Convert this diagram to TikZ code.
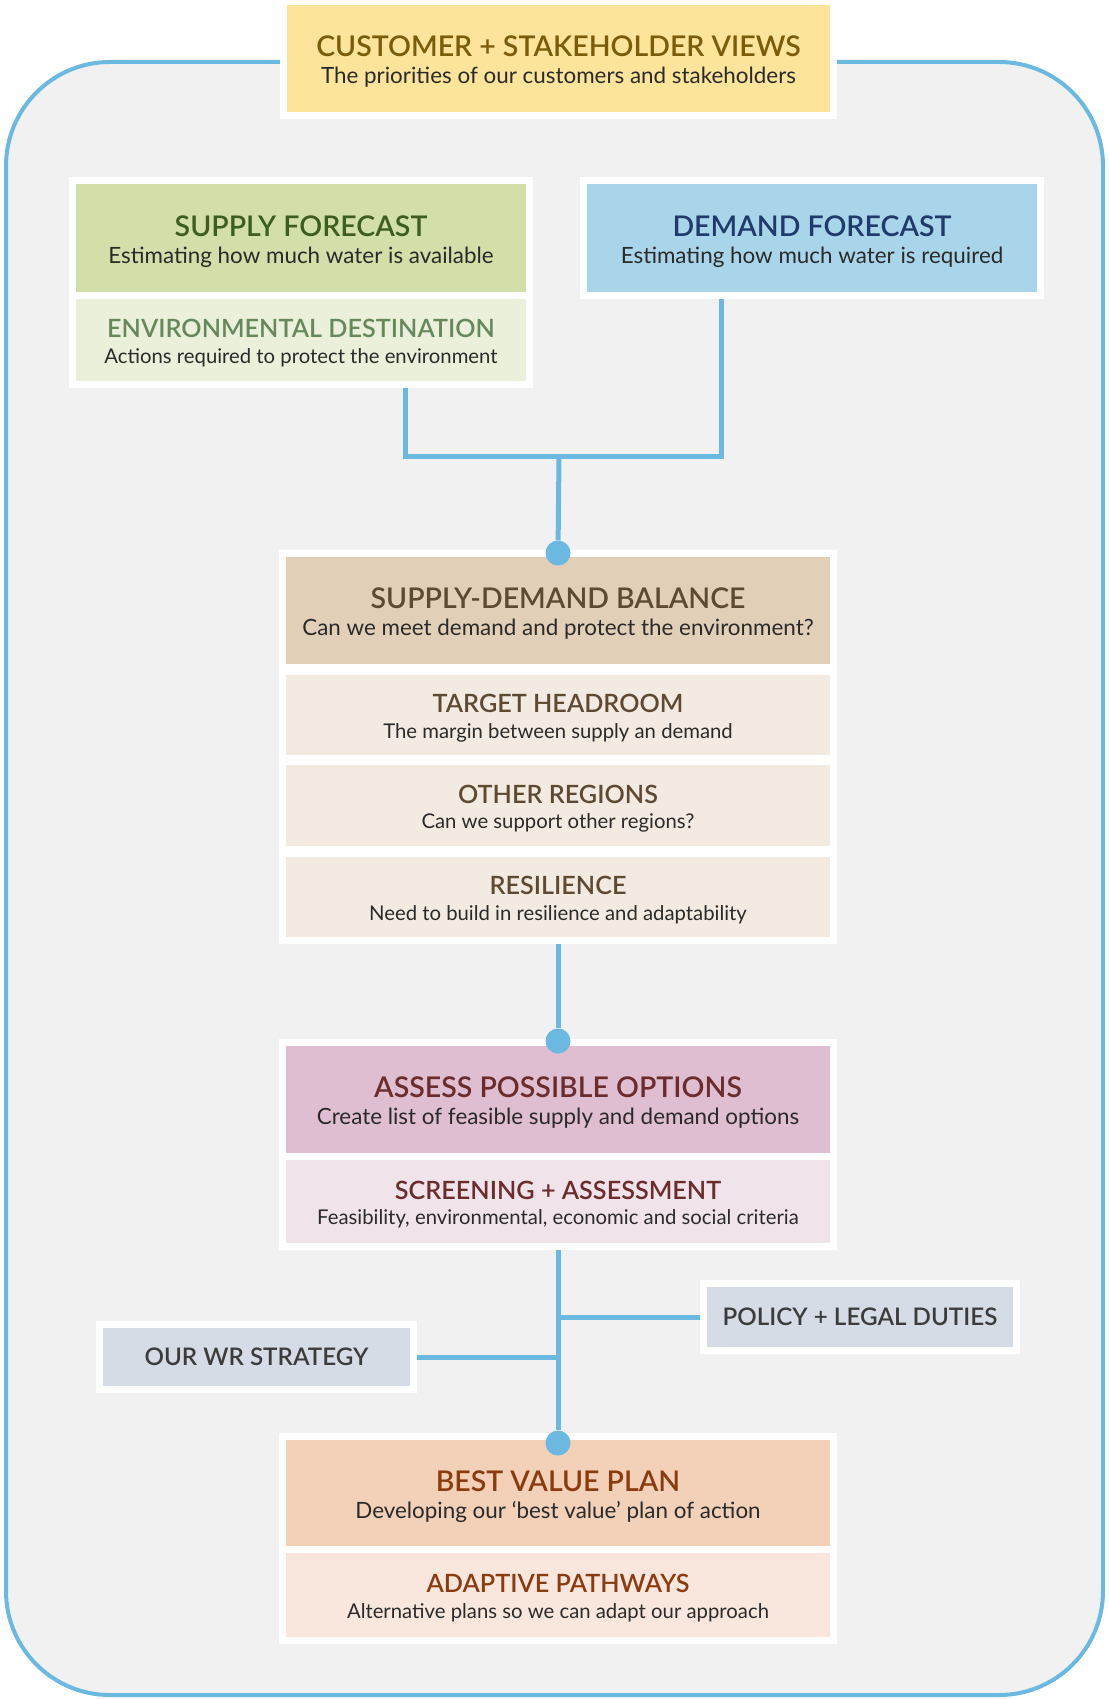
\documentclass[tikz,border=0pt]{standalone}
\usepackage{fontspec}
\setmainfont{Lato}[BoldFont={Lato Semibold}]

\pgfdeclarelayer{back}
\pgfdeclarelayer{wires}
\pgfsetlayers{back,wires,main}

% palette
\definecolor{bggray}{HTML}{F1F1F1}
\definecolor{frameblue}{HTML}{6BB9E0}
\definecolor{wireblue}{HTML}{6BB9E0}
\definecolor{txt}{HTML}{2A2A2A}
\definecolor{custY}{HTML}{FDE49B}
\definecolor{custT}{HTML}{7A5C0A}
\definecolor{supG}{HTML}{D2DFA9}
\definecolor{supT}{HTML}{3D5E1F}
\definecolor{envG}{HTML}{EBF0DA}
\definecolor{envT}{HTML}{66895C}
\definecolor{demB}{HTML}{A9D5EA}
\definecolor{demT}{HTML}{1F3A6B}
\definecolor{sdbB}{HTML}{E2CFB8}
\definecolor{sdbL}{HTML}{F3EAE2}
\definecolor{sdbT}{HTML}{5E4A32}
\definecolor{aspP}{HTML}{DFBED1}
\definecolor{aspL}{HTML}{F0E4EA}
\definecolor{aspT}{HTML}{6A2C2C}
\definecolor{greyB}{HTML}{D5DCE6}
\definecolor{greyT}{HTML}{3C3C3C}
\definecolor{bvpO}{HTML}{F3D0B8}
\definecolor{bvpL}{HTML}{F9E7DD}
\definecolor{bvpT}{HTML}{8A3C10}

% type sizes
\newcommand\ttlfont{\fontsize{28.5}{32}\selectfont\bfseries}
\newcommand\subfont{\fontsize{22.4}{26}\selectfont}
\newcommand\sttlfont{\fontsize{25.2}{28}\selectfont\bfseries}
\newcommand\ssubfont{\fontsize{20.3}{24}\selectfont}
\newcommand\tagfont{\fontsize{24.2}{27}\selectfont\bfseries}

\begin{document}
\begin{tikzpicture}[x=1pt,y=-1pt,
  panel/.style={rectangle, inner sep=0pt, outer sep=0pt, fill=#1,
    preaction={draw=white, line width=14pt}},
  ttl/.style={anchor=base, inner sep=0pt, font=\ttlfont, text=#1},
  subline/.style={anchor=base, inner sep=0pt, font=\subfont, text=txt},
  sttl/.style={anchor=base, inner sep=0pt, font=\sttlfont, text=#1},
  ssubline/.style={anchor=base, inner sep=0pt, font=\ssubfont, text=txt},
  tagbox/.style={panel=greyB, font=\tagfont, text=greyT},
  wire/.style={draw=wireblue, line width=5pt},
  knob/.style={circle, fill=wireblue, minimum size=25pt, inner sep=0pt}]

\useasboundingbox (0,0) rectangle (1108,1699);

% page and the rounded surround
\begin{pgfonlayer}{back}
  \fill[white] (0,0) rectangle (1108,1699);
  \draw[line width=4pt, draw=frameblue, fill=bggray, rounded corners=104pt]
    (6,62) rectangle (1103,1695);
\end{pgfonlayer}

% ---- boxes ----
\node[panel=custY, minimum width=543pt, minimum height=107pt] (cust) at (558.5,58.5) {};
\node[ttl=custT] (custT) at ([yshift=2pt]cust.center) {CUSTOMER + STAKEHOLDER VIEWS};
\node[subline] (custS) at ([yshift=-25pt]cust.center) {The priorities of our customers and stakeholders};

\node[panel=supG, minimum width=450pt, minimum height=108pt] (supply) at (301,238) {};
\node[ttl=supT] (supplyT) at ([yshift=2pt]supply.center) {SUPPLY FORECAST};
\node[subline] (supplyS) at ([yshift=-25pt]supply.center) {Estimating how much water is available};

\node[panel=envG, minimum width=450pt, minimum height=82pt] (env) at (301,340) {};
\node[sttl=envT] (envT) at ([yshift=2.5pt]env.center) {ENVIRONMENTAL DESTINATION};
\node[ssubline] (envS) at ([yshift=-23pt]env.center) {Actions required to protect the environment};

\node[panel=demB, minimum width=450pt, minimum height=108pt] (demand) at (812,238) {};
\node[ttl=demT] (demandT) at ([yshift=2pt]demand.center) {DEMAND FORECAST};
\node[subline] (demandS) at ([yshift=-25pt]demand.center) {Estimating how much water is required};

\node[panel=sdbB, minimum width=544pt, minimum height=107pt] (sdb) at (558,610.5) {};
\node[ttl=sdbT] (sdbT) at ([yshift=2pt]sdb.center) {SUPPLY-DEMAND BALANCE};
\node[subline] (sdbS) at ([yshift=-25pt]sdb.center) {Can we meet demand and protect the environment?};

\node[panel=sdbL, minimum width=544pt, minimum height=80pt] (target) at (558,715) {};
\node[sttl=sdbT] (targetT) at ([yshift=2.5pt]target.center) {TARGET HEADROOM};
\node[ssubline] (targetS) at ([yshift=-23pt]target.center) {The margin between supply an demand};

\node[panel=sdbL, minimum width=544pt, minimum height=81pt] (other) at (558,805.5) {};
\node[sttl=sdbT] (otherT) at ([yshift=2.5pt]other.center) {OTHER REGIONS};
\node[ssubline] (otherS) at ([yshift=-23pt]other.center) {Can we support other regions?};

\node[panel=sdbL, minimum width=544pt, minimum height=80pt] (resil) at (558,897) {};
\node[sttl=sdbT] (resilT) at ([yshift=2.5pt]resil.center) {RESILIENCE};
\node[ssubline] (resilS) at ([yshift=-23pt]resil.center) {Need to build in resilience and adaptability};

\node[panel=aspP, minimum width=544pt, minimum height=107pt] (assess) at (558,1099.5) {};
\node[ttl=aspT] (assessT) at ([yshift=2pt]assess.center) {ASSESS POSSIBLE OPTIONS};
\node[subline] (assessS) at ([yshift=-25pt]assess.center) {Create list of feasible supply and demand options};

\node[panel=aspL, minimum width=544pt, minimum height=83pt] (screen) at (558,1201.5) {};
\node[sttl=aspT] (screenT) at ([yshift=2.5pt]screen.center) {SCREENING + ASSESSMENT};
\node[ssubline] (screenS) at ([yshift=-23pt]screen.center) {Feasibility, environmental, economic and social criteria};

\node[tagbox, minimum width=306pt, minimum height=60pt] (policy) at (860,1317) {POLICY + LEGAL DUTIES};
\node[tagbox, minimum width=307pt, minimum height=58pt] (wr) at (256.5,1357) {OUR WR STRATEGY};

\node[panel=bvpO, minimum width=544pt, minimum height=106pt] (bvp) at (558,1493) {};
\node[ttl=bvpT] (bvpT) at ([yshift=2pt]bvp.center) {BEST VALUE PLAN};
\node[subline] (bvpS) at ([yshift=-25pt]bvp.center) {Developing our ‘best value’ plan of action};

\node[panel=bvpL, minimum width=544pt, minimum height=84pt] (adapt) at (558,1595) {};
\node[sttl=bvpT] (adaptT) at ([yshift=2.5pt]adapt.center) {ADAPTIVE PATHWAYS};
\node[ssubline] (adaptS) at ([yshift=-23pt]adapt.center) {Alternative plans so we can adapt our approach};

% ---- connection knobs ----
\node[knob] (k1) at ([yshift=4pt]sdb.north) {};
\node[knob] (k2) at ([yshift=5pt]assess.north) {};
\node[knob] (k3) at ([yshift=-3pt]bvp.north) {};

% ---- connectors ----
\begin{pgfonlayer}{wires}
  \coordinate (jl) at (405,456);
  \coordinate (jr) at (721,456);
  \coordinate (jm) at (559,456);
  \draw[wire] (env.center -| jl) -- (jl) -- (jr) -- (demand.center -| jr);
  \draw[wire] (jm) -- (k1);
  \draw[wire] (resil.center) -- (k2);
  \draw[wire] (screen.center) -- (k3);
  \draw[wire] (policy.center) -- (policy.center -| k3);
  \draw[wire] (wr.center) -- (wr.center -| k3);
\end{pgfonlayer}
\end{tikzpicture}
\end{document}
